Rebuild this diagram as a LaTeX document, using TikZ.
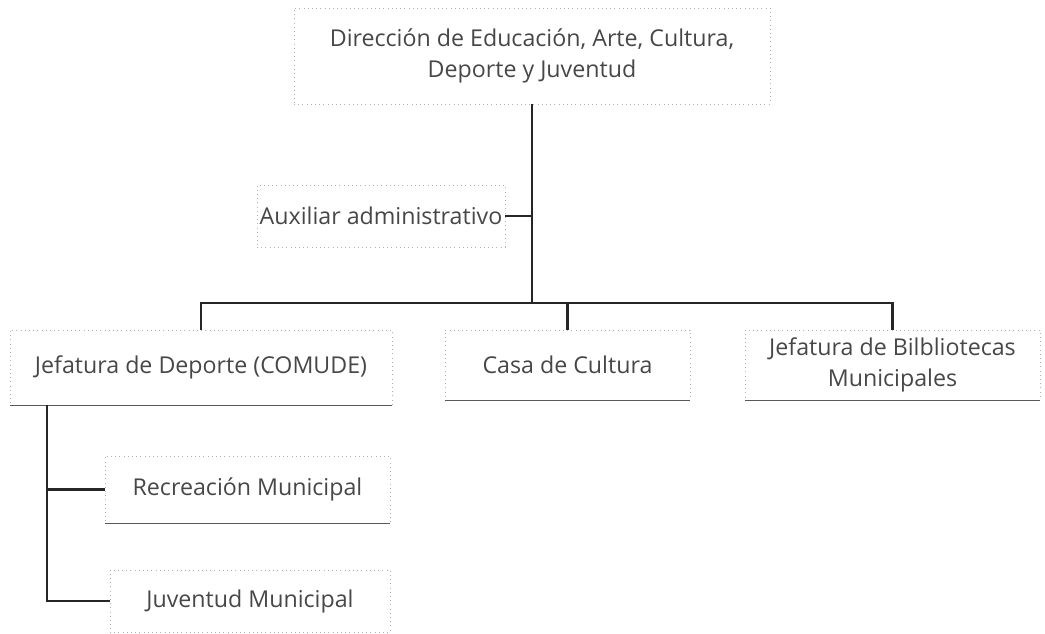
\documentclass[tikz,border=0pt]{standalone}
\usepackage{fontspec}
\setmainfont{Open Sans}
\usetikzlibrary{positioning}

\tikzset{
    unit/.style={draw=gray!60, dash pattern=on 0.5pt off 1.6pt, align=center, inner sep=0pt, text=black!72, font=\fontsize{11.6}{15.5}\selectfont},
    base/.style={draw=gray!70!black, line width=0.6pt},
    link/.style={draw=black!85, line width=1.1pt},
}

\begin{document}
\begin{tikzpicture}[x=0.5pt, y=-0.5pt]
    \useasboundingbox (0,0) rectangle (1045,633);

    \node[unit, minimum width=238pt, minimum height=48pt] (direccion) at (532,56) {Dirección de Educación, Arte, Cultura,\\Deporte y Juventud};
    \node[unit, minimum width=124pt, minimum height=31pt] (auxiliar) at (381,216) {Auxiliar administrativo};
    \node[unit, minimum width=191pt, minimum height=37.5pt] (deporte) at (201,367.5) {Jefatura de Deporte (COMUDE)};
    \node[unit, minimum width=122.5pt, minimum height=35pt] (casa) at (567.5,365) {Casa de Cultura};
    \node[unit, minimum width=147.5pt, minimum height=35pt] (biblio) at (892.5,365) {Jefatura de Bilbliotecas\\Municipales};
    \node[unit, minimum width=142.5pt, minimum height=33.5pt] (recreacion) at (247.5,489.5) {Recreación Municipal};
    \node[unit, minimum width=140pt, minimum height=31pt] (juventud) at (250,601) {Juventud Municipal};

    \draw[base] (deporte.south west) -- (deporte.south east);
    \draw[base] (casa.south west) -- (casa.south east);
    \draw[base] (biblio.south west) -- (biblio.south east);
    \draw[base] (recreacion.south west) -- (recreacion.south east);

    \coordinate (hub) at (532,303);
    \coordinate (spine) at (47,405);

    \draw[link] (direccion.south) -- (hub);
    \draw[link] (auxiliar.east) -- (auxiliar.east -| hub);
    \draw[link] (deporte.north) |- (hub) -| (biblio.north);
    \draw[link] (casa.north) -- (casa.north |- hub);
    \draw[link] (spine) |- (juventud.west);
    \draw[link] (spine |- recreacion.west) -- (recreacion.west);
\end{tikzpicture}
\end{document}
